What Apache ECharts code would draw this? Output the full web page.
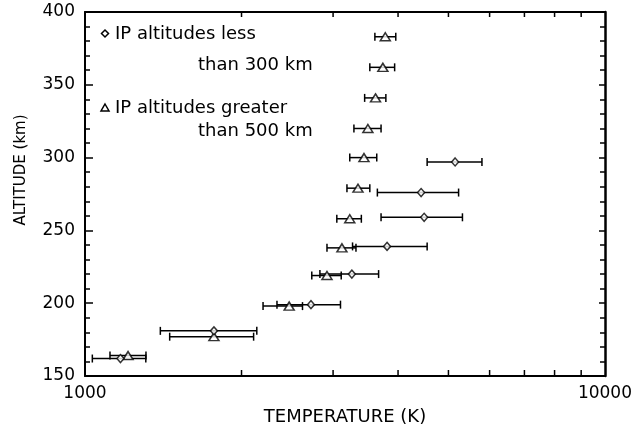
<!DOCTYPE html>
<html>
<head>
<meta charset="utf-8">
<script src="https://cdn.jsdelivr.net/npm/echarts@6/dist/echarts.min.js"></script>
<style>
  html, body { margin: 0; padding: 0; background: #fff; }
  #chart_container { width: 635px; height: 431px; }
</style>
</head>
<body>
<div id="chart_container"></div>
<script>
// IP altitudes greater than 500 km (triangles)
const triAlt = [383, 362, 341, 320, 300, 279, 258, 238, 219, 198, 177, 164]
const triTemp = [3780, 3740, 3620, 3500, 3440, 3350, 3230, 3120, 2920, 2470, 1770, 1210]
const triLow = [3610, 3530, 3450, 3290, 3230, 3190, 3050, 2920, 2730, 2200, 1455, 1117]
const triHigh = [3960, 3940, 3790, 3710, 3640, 3530, 3400, 3320, 3110, 2620, 2110, 1310]

// IP altitudes less than 300 km (diamonds)
const dmdAlt = [297, 276, 259, 239, 220, 199, 181, 162]
const dmdTemp = [5150, 4430, 4490, 3810, 3260, 2720, 1770, 1170]
const dmdLow = [4550, 3650, 3710, 3270, 2830, 2340, 1396, 1033]
const dmdHigh = [5800, 5230, 5320, 4550, 3670, 3100, 2140, 1309]

// log axis minor ticks
const xMinorTicks = [2000, 3000, 4000, 5000, 6000, 7000, 8000, 9000]

const font = 'DejaVu Sans'
const ink = '#000'

// horizontal error bar with end caps
function errorBar(params, api) {
  const y = api.value(2)
  const a = api.coord([api.value(0), y])
  const b = api.coord([api.value(1), y])
  const st = { stroke: ink, lineWidth: 1.5 }
  return {
    type: 'group',
    children: [
      { type: 'line', shape: { x1: a[0], y1: a[1], x2: b[0], y2: b[1] }, style: st },
      { type: 'line', shape: { x1: a[0], y1: a[1] - 4, x2: a[0], y2: a[1] + 4 }, style: st },
      { type: 'line', shape: { x1: b[0], y1: b[1] - 4, x2: b[0], y2: b[1] + 4 }, style: st },
    ],
  }
}

// minor ticks on bottom and top of the log axis
function minorTick(params, api) {
  const v = api.value(0)
  const bot = api.coord([v, 150])
  const top = api.coord([v, 400])
  const st = { stroke: ink, lineWidth: 1.5 }
  return {
    type: 'group',
    children: [
      { type: 'line', shape: { x1: bot[0], y1: bot[1], x2: bot[0], y2: bot[1] - 6 }, style: st },
      { type: 'line', shape: { x1: top[0], y1: top[1], x2: top[0], y2: top[1] + 5 }, style: st },
    ],
  }
}

const axisLine = { show: true, lineStyle: { color: ink, width: 2 } }

const option = {
  backgroundColor: '#fff',
  animation: false,
  grid: { left: 85, right: 28, top: 12, bottom: 55 },
  xAxis: [
    {
      type: 'log',
      logBase: 10,
      min: 1000,
      max: 10000,
      position: 'bottom',
      name: 'TEMPERATURE (K)',
      nameLocation: 'middle',
      nameGap: 32,
      nameTextStyle: { fontFamily: font, fontSize: 18, color: ink },
      axisLine: axisLine,
      axisTick: { show: false },
      axisLabel: { fontFamily: font, fontSize: 17, color: ink, margin: 9, formatter: v => String(Math.round(v)) },
      splitLine: { show: false },
    },
    {
      type: 'log',
      logBase: 10,
      min: 1000,
      max: 10000,
      position: 'top',
      axisLine: axisLine,
      axisTick: { show: false },
      axisLabel: { show: false },
      splitLine: { show: false },
    },
  ],
  yAxis: [
    {
      type: 'value',
      min: 150,
      max: 400,
      interval: 50,
      position: 'left',
      name: 'ALTITUDE (km)',
      nameLocation: 'middle',
      nameGap: 56,
      nameTextStyle: { fontFamily: font, fontSize: 15, color: ink, padding: [0, 0, 0, 48] },
      axisLine: axisLine,
      axisTick: { show: true, inside: true, length: 8, lineStyle: { color: ink, width: 1.5 } },
      minorTick: { show: true, splitNumber: 5, length: 5, lineStyle: { color: ink, width: 1.5 } },
      axisLabel: { fontFamily: font, fontSize: 17, color: ink, margin: 10 },
      splitLine: { show: false },
    },
    {
      type: 'value',
      min: 150,
      max: 400,
      interval: 50,
      position: 'right',
      axisLine: { show: true, lineStyle: { color: ink, width: 2.5 } },
      axisTick: { show: true, inside: true, length: 6, lineStyle: { color: ink, width: 1.5 } },
      minorTick: { show: true, splitNumber: 5, length: 5, lineStyle: { color: ink, width: 1.5 } },
      axisLabel: { show: false },
      splitLine: { show: false },
    },
  ],
  graphic: [
    { type: 'polygon', shape: { points: [[105, 30], [108.5, 33.5], [105, 37], [101.5, 33.5]] }, style: { fill: '#fff', stroke: ink, lineWidth: 1.5 } },
    { type: 'text', x: 115, y: 34, style: { text: 'IP altitudes less', fontFamily: font, fontSize: 18, fill: ink, verticalAlign: 'middle' } },
    { type: 'text', x: 198, y: 65, style: { text: 'than 300 km', fontFamily: font, fontSize: 18, fill: ink, verticalAlign: 'middle' } },
    { type: 'polygon', shape: { points: [[105, 104], [109, 111], [101, 111]] }, style: { fill: '#fff', stroke: ink, lineWidth: 1.5 } },
    { type: 'text', x: 115, y: 108, style: { text: 'IP altitudes greater', fontFamily: font, fontSize: 18, fill: ink, verticalAlign: 'middle' } },
    { type: 'text', x: 198, y: 131, style: { text: 'than 500 km', fontFamily: font, fontSize: 18, fill: ink, verticalAlign: 'middle' } },
  ],
  series: [
    {
      type: 'custom',
      silent: true,
      renderItem: minorTick,
      encode: { x: 0, y: 1 },
      data: xMinorTicks.map(v => [v, 150]),
    },
    {
      type: 'custom',
      silent: true,
      renderItem: errorBar,
      encode: { x: [0, 1], y: 2 },
      data: triAlt.map((a, i) => [triLow[i], triHigh[i], a]),
    },
    {
      type: 'custom',
      silent: true,
      renderItem: errorBar,
      encode: { x: [0, 1], y: 2 },
      data: dmdAlt.map((a, i) => [dmdLow[i], dmdHigh[i], a]),
    },
    {
      name: 'IP altitudes greater than 500 km',
      type: 'scatter',
      symbol: 'triangle',
      symbolSize: [10, 8],
      itemStyle: { color: '#fff', borderColor: ink, borderWidth: 1.5 },
      z: 5,
      data: triAlt.map((a, i) => [triTemp[i], a]),
    },
    {
      name: 'IP altitudes less than 300 km',
      type: 'scatter',
      symbol: 'diamond',
      symbolSize: [7, 8],
      itemStyle: { color: '#fff', borderColor: ink, borderWidth: 1.5 },
      z: 5,
      data: dmdAlt.map((a, i) => [dmdTemp[i], a]),
    },
  ],
}

const chartPlot = echarts.init(document.getElementById('chart_container'))
chartPlot.setOption(option)
</script>
</body>
</html>
